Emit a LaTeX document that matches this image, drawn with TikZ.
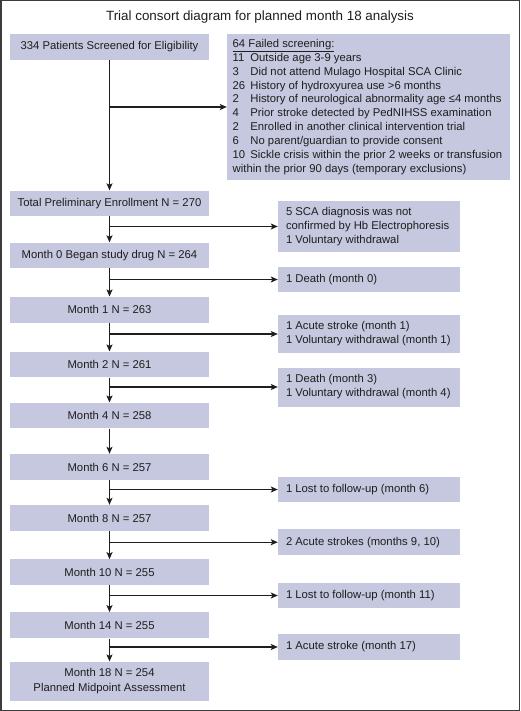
\documentclass[tikz,border=0pt]{standalone}
\usepackage{fontspec}
\setmainfont{Liberation Sans}
\usetikzlibrary{arrows.meta}
\definecolor{boxfill}{RGB}{197,200,222}
\definecolor{framec}{RGB}{60,60,60}
\definecolor{txt}{RGB}{30,30,30}
\newcommand{\nm}[1]{\makebox[17.7pt][l]{#1}}
\begin{document}
\begin{tikzpicture}[x=1pt,y=-1pt,
  lbox/.style={fill=boxfill, minimum width=199pt, inner sep=0pt, align=center, text=txt, font=\fontsize{11.3}{14}\selectfont},
  rbox/.style={fill=boxfill, minimum width=182pt, inner sep=0pt},
  rtext/.style={anchor=west, inner sep=0pt, align=left, text=txt, font=\fontsize{11.3}{14}\selectfont},
  arr/.style={-{Stealth[length=7pt,width=6pt,inset=1.5pt]}, line width=1.1pt, txt}]
\useasboundingbox (0,0) rectangle (520,711);
\draw[framec, line width=1.5pt] (0.75,0.75) rectangle (519.25,710.25);
\node[text=txt, font=\fontsize{13.4}{16}\selectfont] (title) at (260,17) {Trial consort diagram for planned month 18 analysis};
% left column
\node[lbox, minimum height=26pt]   (b0)  at (109.5,47)    {334 Patients Screened for Eligibility};
\node[lbox, minimum height=25.5pt] (b1)  at (109.5,203.3) {Total Preliminary Enrollment N = 270};
\node[lbox, minimum height=25.5pt] (b2)  at (109.5,255.3) {Month 0 Began study drug N = 264};
\node[lbox, minimum height=26pt]   (b3)  at (109.5,309.7) {Month 1 N = 263};
\node[lbox, minimum height=25.6pt] (b4)  at (109.5,364.5) {Month 2 N = 261};
\node[lbox, minimum height=25.6pt] (b5)  at (109.5,415.5) {Month 4 N = 258};
\node[lbox, minimum height=26pt]   (b6)  at (109.5,467)   {Month 6 N = 257};
\node[lbox, minimum height=26pt]   (b7)  at (109.5,518)   {Month 8 N = 257};
\node[lbox, minimum height=25.7pt] (b8)  at (109.5,572.2) {Month 10 N = 255};
\node[lbox, minimum height=26pt]   (b9)  at (109.5,625.3) {Month 14 N = 255};
\node[lbox, minimum height=39.3pt, font=\fontsize{11.3}{15}\selectfont] (b10) at (109.5,681.3) {Month 18 N = 254\\Planned Midpoint Assessment};
% right column boxes
\node[fill=boxfill, minimum width=283pt, minimum height=146pt, inner sep=0pt] (r0) at (368.5,107) {};
\node[rbox, minimum height=51pt]   (r1) at (369,226.5) {};
\node[rbox, minimum height=25.7pt] (r2) at (369,279.5) {};
\node[rbox, minimum height=38.3pt] (r3) at (369,334)   {};
\node[rbox, minimum height=39pt]   (r4) at (369,387)   {};
\node[rbox, minimum height=25.6pt] (r5) at (369,489.5) {};
\node[rbox, minimum height=25.7pt] (r6) at (369,542.2) {};
\node[rbox, minimum height=25.6pt] (r7) at (369,595.5) {};
\node[rbox, minimum height=26pt]   (r8) at (369,647)   {};
% right column texts
\node[rtext, font=\fontsize{11.3}{13.9}\selectfont] (t0) at ([xshift=5.7pt]r0.west)
 {\underline{64 Failed screening:}\\
  \nm{11}Outside age 3-9 years\\
  \nm{3}Did not attend Mulago Hospital SCA Clinic\\
  \nm{26}History of hydroxyurea use >6 months\\
  \nm{2}History of neurological abnormality age ≤4 months\\
  \nm{4}Prior stroke detected by PedNIHSS examination\\
  \nm{2}Enrolled in another clinical intervention trial\\
  \nm{6}No parent/guardian to provide consent\\
  \nm{10}Sickle crisis within the prior 2 weeks or transfusion\\
  within the prior 90 days (temporary exclusions)};
\node[rtext] (t1) at ([xshift=8pt]r1.west) {5 SCA diagnosis was not\\confirmed by Hb Electrophoresis\\1 Voluntary withdrawal};
\node[rtext] (t2) at ([xshift=8pt]r2.west) {1 Death (month 0)};
\node[rtext] (t3) at ([xshift=8pt]r3.west) {1 Acute stroke (month 1)\\1 Voluntary withdrawal (month 1)};
\node[rtext] (t4) at ([xshift=8pt]r4.west) {1 Death (month 3)\\1 Voluntary withdrawal (month 4)};
\node[rtext] (t5) at ([xshift=8pt]r5.west) {1 Lost to follow-up (month 6)};
\node[rtext] (t6) at ([xshift=8pt]r6.west) {2 Acute strokes (months 9, 10)};
\node[rtext] (t7) at ([xshift=8pt]r7.west) {1 Lost to follow-up (month 11)};
\node[rtext] (t8) at ([xshift=8pt]r8.west) {1 Acute stroke (month 17)};
% trunk arrows
\draw[arr] (b0.south) -- (b1.north);
\draw[arr] (b1.south) -- (b2.north);
\draw[arr] (b2.south) -- (b3.north);
\draw[arr] (b3.south) -- (b4.north);
\draw[arr] (b4.south) -- (b5.north);
\draw[arr] (b5.south) -- (b6.north);
\draw[arr] (b6.south) -- (b7.north);
\draw[arr] (b7.south) -- (b8.north);
\draw[arr] (b8.south) -- (b9.north);
\draw[arr] (b9.south) -- (b10.north);
% branch arrows
\draw[arr] (b0.south |- r0.west) -- (r0.west);
\draw[arr] (b1.south |- r1.west) -- (r1.west);
\draw[arr] (b2.south |- r2.west) -- (r2.west);
\draw[arr] (b3.south |- r3.west) -- (r3.west);
\draw[arr] (b4.south |- r4.west) -- (r4.west);
\draw[arr] (b6.south |- r5.west) -- (r5.west);
\draw[arr] (b7.south |- r6.west) -- (r6.west);
\draw[arr] (b8.south |- r7.west) -- (r7.west);
\draw[arr] (b9.south |- r8.west) -- (r8.west);
\end{tikzpicture}
\end{document}
